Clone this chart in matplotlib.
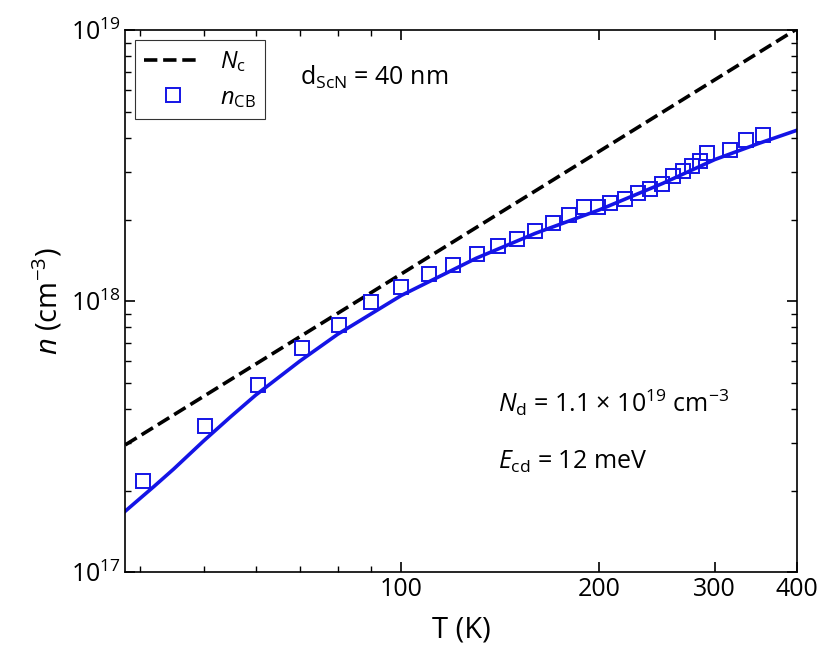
import matplotlib
matplotlib.use("Agg")
import matplotlib.pyplot as plt
from matplotlib.ticker import FixedLocator, NullFormatter, LogLocator

plt.rcParams['font.family'] = ['Open Sans', 'DejaVu Sans']
plt.rcParams['mathtext.fontset'] = 'custom'
plt.rcParams['mathtext.rm'] = 'Open Sans'
plt.rcParams['mathtext.it'] = 'Open Sans:italic'

T_data = [40.4, 50.3, 60.5, 70.5, 80.4, 89.8, 100, 110, 120, 130.6, 140.5, 150, 160, 170, 180,
          190, 199.4, 208, 219, 229, 239, 249, 259, 268, 277, 285, 292, 316, 335, 355]
n_data = [2.17e17, 3.46e17, 4.9e17, 6.7e17, 8.15e17, 9.9e17, 1.13e18, 1.26e18, 1.36e18, 1.49e18,
          1.6e18, 1.69e18, 1.81e18, 1.94e18, 2.08e18, 2.22e18, 2.22e18, 2.30e18, 2.38e18, 2.50e18,
          2.59e18, 2.70e18, 2.89e18, 3.02e18, 3.16e18, 3.29e18, 3.52e18, 3.6e18, 3.93e18, 4.1e18]
T_nc = [38, 400]
Nc = [2.95e17, 1.01e19]
T_fit = [38, 40, 42, 45, 50, 55, 60, 70, 80, 100, 130, 160, 200, 250, 300, 350, 400]
n_fit = [1.68e17, 1.87e17, 2.07e17, 2.4e17, 3.05e17, 3.75e17, 4.5e17, 6.0e17, 7.55e17, 1.05e18,
         1.44e18, 1.78e18, 2.17e18, 2.72e18, 3.33e18, 3.82e18, 4.27e18]

fig = plt.figure(figsize=(8.3, 6.7), dpi=100)
ax = fig.add_axes([0.151, 0.146, 0.809, 0.809])
ax.plot(T_nc, Nc, '--', color='black', lw=2.6, label=r'$N_\mathrm{c}$')
ax.plot(T_fit, n_fit, '-', color='#1414e6', lw=2.6)
ax.plot(T_data, n_data, 's', mfc='none', mec='#1414e6', ms=10, mew=1.4, label=r'$n_\mathrm{CB}$')
ax.set_xscale('log'); ax.set_yscale('log')
ax.set_xlim(38, 400); ax.set_ylim(1e17, 1e19)
ax.xaxis.set_major_locator(FixedLocator([100, 200, 300, 400]))
ax.xaxis.set_major_formatter(matplotlib.ticker.FixedFormatter(['100', '200', '300', '400']))
ax.xaxis.set_minor_locator(FixedLocator([40, 50, 60, 70, 80, 90]))
ax.xaxis.set_minor_formatter(NullFormatter())
ax.yaxis.set_major_locator(LogLocator(base=10))
ax.yaxis.set_minor_locator(LogLocator(base=10, subs=range(2, 10)))
ax.yaxis.set_minor_formatter(NullFormatter())
ax.tick_params(which='both', direction='in', top=True, right=True, labelsize=18)
ax.tick_params(which='major', length=7, width=1.2)
ax.tick_params(which='minor', length=4, width=1.0)
for s in ax.spines.values():
    s.set_linewidth(1.2)
ax.set_xlabel('T (K)', fontsize=21, labelpad=10)
ax.set_ylabel(r'$n$ (cm$^{-3}$)', fontsize=21)
leg = ax.legend(loc='upper left', fontsize=17, frameon=True, fancybox=False, edgecolor='black',
                handlelength=2.4, borderaxespad=0.4)
leg.get_frame().set_linewidth(0.8)
ax.text(0.26, 0.9, r'd$_\mathrm{ScN}$ = 40 nm', transform=ax.transAxes, fontsize=18)
ax.text(0.555, 0.295, r'$N_\mathrm{d}$ = 1.1 × 10$^{19}$ cm$^{-3}$', transform=ax.transAxes, fontsize=18)
ax.text(0.555, 0.19, r'$E_\mathrm{cd}$ = 12 meV', transform=ax.transAxes, fontsize=18)
fig.savefig('out.png', dpi=100)
